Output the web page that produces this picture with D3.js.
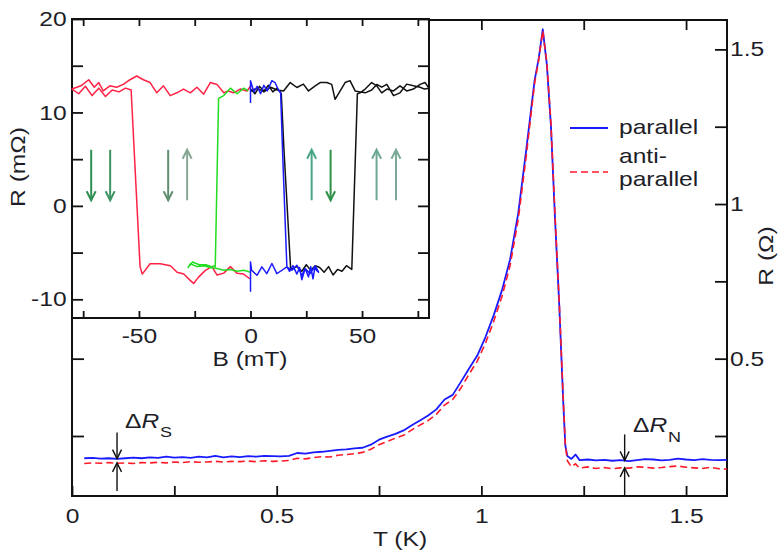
<!DOCTYPE html>
<html><head><meta charset="utf-8">
<script src="https://cdn.jsdelivr.net/npm/d3@7"></script>
<style>body{margin:0;background:#fff}svg{display:block}</style>
</head><body><svg id="c" width="779" height="557"></svg>
<script>
// ---------- main data: R(T) ----------
const temps = [0.03,0.05,0.07,0.09,0.11,0.13,0.15,0.17,0.19,0.21,
  0.23,0.25,0.27,0.29,0.31,0.33,0.35,0.37,0.39,0.41,
  0.43,0.45,0.47,0.49,0.51,0.53,0.55,0.57,0.59,0.61,
  0.63,0.65,0.67,0.69,0.71,0.73,0.75,0.77,0.79,0.81,
  0.83,0.85,0.87,0.89,0.91,0.93,0.95,0.97,0.99,1.01,
  1.03,1.05,1.07,1.09,1.11,1.13,
  1.14,1.15,1.16,1.17,1.18,1.19,1.20,1.205,1.21,1.22,1.23,1.24,
  1.26,1.28,1.30,1.32,1.34,1.36,1.38,1.40,1.42,1.44,1.46,1.48,1.50,1.52,1.54,1.56,1.58,1.60];
const rParallel = [0.178,0.179,0.177,0.178,0.176,0.178,0.180,0.178,0.181,0.179,
  0.183,0.180,0.182,0.179,0.183,0.181,0.186,0.181,0.184,0.182,
  0.185,0.183,0.186,0.185,0.184,0.186,0.195,0.193,0.197,0.199,
  0.202,0.205,0.207,0.210,0.212,0.222,0.238,0.248,0.257,0.268,
  0.285,0.300,0.316,0.336,0.368,0.383,0.425,0.468,0.510,0.570,
  0.640,0.720,0.820,0.970,1.180,1.400,
  1.470,1.565,1.450,1.250,0.950,0.680,0.360,0.220,0.185,0.176,0.190,0.172,
  0.174,0.171,0.173,0.170,0.172,0.169,0.172,0.175,0.174,0.171,0.173,0.177,0.174,0.172,0.175,0.173,0.172,0.173];
const rAntiParallel = [0.161,0.163,0.162,0.164,0.162,0.163,0.161,0.164,0.163,0.165,
  0.163,0.166,0.164,0.167,0.165,0.166,0.168,0.166,0.168,0.167,
  0.169,0.167,0.170,0.168,0.169,0.171,0.178,0.176,0.180,0.183,
  0.182,0.188,0.190,0.193,0.197,0.207,0.222,0.232,0.243,0.252,
  0.270,0.285,0.300,0.320,0.350,0.368,0.405,0.450,0.492,0.550,
  0.620,0.700,0.800,0.950,1.160,1.390,
  1.465,1.560,1.455,1.260,0.960,0.690,0.370,0.225,0.170,0.150,0.160,0.146,
  0.150,0.145,0.148,0.144,0.147,0.146,0.150,0.149,0.146,0.148,0.151,0.153,0.149,0.147,0.145,0.149,0.144,0.143];
const seriesNames = ["parallel", "anti-parallel"];
const tTicks = [0,0.25,0.5,0.75,1,1.25,1.5];
const tLabels = ["0","","0.5","","1","","1.5"];
const rTicks = [0.25,0.5,0.75,1,1.25,1.5];
const rLabels = ["","0.5","","1","","1.5"];
// Delta-R annotations
const annotT = [0.11, 1.35];
const annotTop = [0.177, 0.171];
const annotBottom = [0.163, 0.147];
const annotSub = ["S","N"];

// ---------- inset data: R(B) ----------
const redB = [0,-1.6,-4.6,-7.6,-10,-12,-15,-18,-21,-24,-27,-30,-33,-36,-39,-42,-45,-48,-51,-54,-57,-60,-63,-66,-68,-70,-72.5,-76,-80,
  -77,-74,-71,-68,-65,-62,-59,-56,-53.5,-49.5,-48.5,-45,-40.4,-35.9,-32.9,-29.9,-26.9,-25.5,-23.2,-20.2,-17.3,-15,-12,-9,-6.1,-3.1,-0.3];
const redR = [12.8,12.3,12.5,12.1,12.3,12.1,13.0,13.2,11.95,12.7,12.1,12.5,12.1,11.8,12.85,12.1,13.2,13.5,13.9,13.5,13.0,12.7,12.85,12.3,13.2,12.7,13.5,12.85,12.5,
  12.0,12.8,11.8,12.6,11.7,12.4,12.2,12.6,12.4,-6.5,-7.3,-6.2,-6.2,-6.4,-7.1,-7.3,-8.0,-8.3,-7.6,-6.9,-6.5,-7.4,-7.2,-6.5,-7.2,-7.3,-7.8];
const greenB = [0,-3,-6,-9,-12,-15,-18,-21,-24,-27,-28,-26,-23,-20,-17.5,-16,-15.8,-14.3,-12,-9,-6,-3,-1];
const greenR = [-7.1,-6.9,-7.0,-6.8,-6.9,-6.7,-6.6,-6.4,-6.5,-6.2,-6.6,-6.0,-6.3,-6.3,-6.5,-6.4,-6.5,11.5,11.8,12.6,12.0,12.6,12.3];
const blueB = [0,0,1.5,3,4.5,6,7.5,9.6,11,12.5,13.5,14.5,16.3,17.5,19,20.8,22,23,24.5,26,27,28,29,30.5,
  30,28.5,26.7,24.5,23,20.8,18.5,16.3,14.1,11.8,9.6,7.3,5.1,2.9,0.5,0,0];
const blueR = [11.0,13.4,12.2,12.8,12.0,12.9,12.3,13.4,13.2,12.4,12.1,5,-6.5,-7.0,-6.4,-7.3,-6.6,-7.9,-6.7,-7.6,-6.5,-7.8,-6.4,-7.1,
  -7.0,-6.6,-7.25,-6.7,-7.43,-6.35,-6.89,-6.53,-6.89,-7.25,-6.17,-7.25,-6.53,-7.43,-6.89,-6.0,-9.2];
const blackB = [0,2,4,6,8,10,12,13.8,15,18,20.8,23,25,27,29,31,33,35,37,39,41,43,45.4,47.9,49.1,51.4,54.3,56.6,58.8,61.1,64.1,67,70,73,76,78.2,80,
  78,76,73,70,67,64.1,61.1,58.8,56.6,54.3,51.4,49.1,46.9,44.6,42.4,40.2,37.9,36.4,34.2,31.2,29,26,23.7,20.8,17.8,14.8,12,9,6,3,0];
const blackR = [12.5,12.0,12.8,12.3,12.9,12.2,12.6,12.0,6,-6.8,-6.5,-7.0,-6.3,-6.9,-6.4,-6.6,-7.1,-6.5,-7.4,-6.8,-7.0,-6.4,-6.8,12.0,12.1,12.5,13.2,12.85,12.1,12.5,12.3,12.85,12.3,12.5,13.0,13.2,12.6,
  12.5,12.7,12.85,13.03,12.1,11.8,13.0,12.7,13.0,12.4,12.1,12.2,12.3,13.4,13.2,12.3,11.4,13.0,13.2,13.2,12.85,12.3,13.03,12.67,13.2,12.3,12.4,12.7,12.2,12.6,12.3];
const bTicks = [-75,-50,-25,0,25,50,75];
const bLabels = ["","-50","","0","","50",""];
const mTicks = [-10,-5,0,5,10,15,20];
const mLabels = ["-10","","0","","10","","20"];
// magnetisation arrows: B position, direction (1 = up), colour
const arrowB = [-71.4,-62.9,-36.9,-28.4,27.4,35.9,56.5,65.2];
const arrowDir = [0,0,0,1,1,0,1,1];
const arrowCol = ["#2f8f52","#3d9362","#5f8f70","#86a893","#4aa585","#2e9148","#6ea892","#7caa98"];
const arrowR = [6.0, 0.6];

// ---------- drawing ----------
const FONT = "'Liberation Sans', Arial, Helvetica, sans-serif";
const FS = 20.5, SX = 1.2, TXT = "#1e1e28";
const svg = d3.select("#c");
svg.append("rect").attr("width",779).attr("height",557).attr("fill","#fff");

const x = d3.scaleLinear().domain([0,1.6]).range([72,727]);
const y = d3.scaleLinear().domain([0.056,1.595]).range([496,20]);

function styleText(sel){
  sel.attr("font-family",FONT).attr("font-size",FS).attr("fill",TXT);
}
function label(g, px, py, str, anchor, rot){
  const t = g.append("text")
    .attr("transform", `translate(${px},${py})` + (rot?` rotate(${rot})`:"") + ` scale(${SX},1)`)
    .attr("text-anchor", anchor||"start").text(str);
  styleText(t);
  return t;
}
function fixAxis(g){
  g.select(".domain").remove();
  g.selectAll(".tick line").attr("stroke","#111").attr("stroke-width",1.8);
  g.selectAll("text").call(styleText).attr("transform",`scale(${SX},1)`);
}

const main = svg.append("g");
// axes
const fmtT = (d,i)=>tLabels[i], fmtR = (d,i)=>rLabels[i];
main.append("g").attr("transform","translate(0,496)")
  .call(d3.axisBottom(x).tickValues(tTicks).tickFormat(fmtT).tickSizeInner(-10).tickSizeOuter(0).tickPadding(12.5)).call(fixAxis);
main.append("g").attr("transform","translate(0,20)")
  .call(d3.axisTop(x).tickValues(tTicks).tickFormat(()=>"").tickSizeInner(-10).tickSizeOuter(0)).call(fixAxis);
main.append("g").attr("transform","translate(72,0)")
  .call(d3.axisLeft(y).tickValues(rTicks).tickFormat(()=>"").tickSizeInner(-12).tickSizeOuter(0)).call(fixAxis);
main.append("g").attr("transform","translate(727,0)")
  .call(d3.axisRight(y).tickValues(rTicks).tickFormat(fmtR).tickSizeInner(-12).tickSizeOuter(0).tickPadding(2.5)).call(fixAxis);
main.append("rect").attr("x",72).attr("y",20).attr("width",655).attr("height",476)
  .attr("fill","none").attr("stroke","#111").attr("stroke-width",2);

// curves
const line = d3.line().x(d=>x(d[0])).y(d=>y(d[1]));
const parData = temps.map((t,i)=>[t,rParallel[i]]);
const apData = temps.map((t,i)=>[t,rAntiParallel[i]]);
main.append("path").datum(parData).attr("d",line).attr("fill","none")
  .attr("stroke","#1a1aff").attr("stroke-width",1.8).attr("stroke-linejoin","round");
main.append("path").datum(apData).attr("d",line).attr("fill","none")
  .attr("stroke","#ff1a2a").attr("stroke-width",1.6).attr("stroke-dasharray","7,4");

// axis titles
label(main, 400, 546, "T (K)", "middle");
label(main, 773, 256, "R (Ω)", "middle", -90);

// legend
main.append("line").attr("x1",570).attr("x2",608).attr("y1",128).attr("y2",128)
  .attr("stroke","#1a1aff").attr("stroke-width",1.8);
main.append("line").attr("x1",570).attr("x2",608).attr("y1",172).attr("y2",172)
  .attr("stroke","#ff1a2a").attr("stroke-width",1.6).attr("stroke-dasharray","7,4");
label(main, 619, 134, seriesNames[0]);
label(main, 619, 163, "anti-");
label(main, 619, 186, "parallel");

// Delta R annotations
function arrow(g, px, yFrom, yTo, col, w){
  const dir = yTo > yFrom ? 1 : -1;
  g.append("line").attr("x1",px).attr("x2",px).attr("y1",yFrom).attr("y2",yTo)
    .attr("stroke",col).attr("stroke-width",w);
  g.append("path").attr("d",`M${px-4.5},${yTo-dir*9}L${px},${yTo}L${px+4.5},${yTo-dir*9}`)
    .attr("fill","none").attr("stroke",col).attr("stroke-width",w);
}
annotT.forEach((t,i)=>{
  const px = x(t);
  const yt = y(annotTop[i]), yb = y(annotBottom[i]);
  arrow(main, px, yt-26, yt, "#111", 1.4);
  arrow(main, px, i===0 ? yb+28 : 496, yb, "#111", 1.4);
  const bx0 = i===0 ? 125 : 633, base = i===0 ? 428 : 432;
  const t1 = main.append("text").attr("transform",`translate(${bx0},${base}) scale(${SX},1)`);
  styleText(t1);
  t1.append("tspan").text("Δ");
  t1.append("tspan").attr("font-style","italic").text("R");
  const t2 = main.append("text").attr("transform",`translate(${bx0+35},${base+ (i===0?9:10)}) scale(${SX},1)`)
    .text(annotSub[i]);
  styleText(t2); t2.attr("font-size",15);
});

// ---------- inset ----------
const ins = svg.append("g");
const bx = d3.scaleLinear().domain([-80,80]).range([72,429]);
const by = d3.scaleLinear().domain([-12,20]).range([318,19]);
ins.append("rect").attr("x",72).attr("y",19).attr("width",357).attr("height",299).attr("fill","#fff");
const fmtB = (d,i)=>bLabels[i], fmtM = (d,i)=>mLabels[i];
ins.append("g").attr("transform","translate(0,318)")
  .call(d3.axisBottom(bx).tickValues(bTicks).tickFormat(fmtB).tickSizeInner(-7).tickSizeOuter(0).tickPadding(10.5)).call(fixAxis);
ins.append("g").attr("transform","translate(0,19)")
  .call(d3.axisTop(bx).tickValues(bTicks).tickFormat(()=>"").tickSizeInner(-7).tickSizeOuter(0)).call(fixAxis);
ins.append("g").attr("transform","translate(72,0)")
  .call(d3.axisLeft(by).tickValues(mTicks).tickFormat(fmtM).tickSizeInner(-11).tickSizeOuter(0).tickPadding(4.5)).call(fixAxis);
ins.append("g").attr("transform","translate(429,0)")
  .call(d3.axisRight(by).tickValues(mTicks).tickFormat(()=>"").tickSizeInner(-11).tickSizeOuter(0)).call(fixAxis);
ins.append("rect").attr("x",72).attr("y",19).attr("width",357).attr("height",299)
  .attr("fill","none").attr("stroke","#111").attr("stroke-width",2);

const bline = d3.line().x(d=>bx(d[0])).y(d=>by(d[1]));
const traces = [[redB,redR,"#ff2245"],[greenB,greenR,"#22dd22"],[blackB,blackR,"#111"],[blueB,blueR,"#1a1aff"]];
traces.forEach(([bs,rs,col])=>{
  ins.append("path").datum(bs.map((b,i)=>[b,rs[i]])).attr("d",bline)
    .attr("fill","none").attr("stroke",col).attr("stroke-width",1.5).attr("stroke-linejoin","round");
});
// magnetisation arrows
arrowB.forEach((b,i)=>{
  const px = bx(b);
  const yTop = by(arrowR[0]), yBot = by(arrowR[1]);
  if (arrowDir[i]) arrow(ins, px, yBot, yTop, arrowCol[i], 2);
  else arrow(ins, px, yTop, yBot, arrowCol[i], 2);
});
label(ins, 250, 366, "B (mT)", "middle");
label(ins, 25, 167, "R (mΩ)", "middle", -90);
</script>
</body></html>
